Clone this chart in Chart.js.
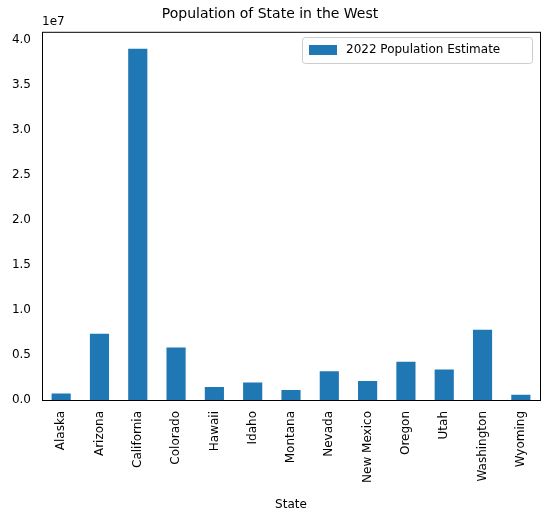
<!DOCTYPE html>
<html><head><meta charset="utf-8">
<script src="https://cdn.jsdelivr.net/npm/chart.js@4"></script>
<style>body{margin:0;background:#fff}#wrap{width:547px;height:522px}</style>
</head><body><div id="wrap"><canvas id="c"></canvas></div>
<script>
const states = ['Alaska','Arizona','California','Colorado','Hawaii','Idaho','Montana','Nevada','New Mexico','Oregon','Utah','Washington','Wyoming'];
const population = [733000, 7360000, 39030000, 5840000, 1440000, 1940000, 1120000, 3180000, 2110000, 4240000, 3380000, 7790000, 580000];
const yTicks = [0, 5e6, 1e7, 1.5e7, 2e7, 2.5e7, 3e7, 3.5e7, 4e7];
const FONT = 'DejaVu Sans';

const extras = {
  id: 'extras',
  afterDraw(chart) {
    const { ctx, chartArea: a } = chart;
    ctx.save();
    ctx.strokeStyle = '#000'; ctx.lineWidth = 1;
    ctx.strokeRect(a.left + 0.5, a.top + 0.5, a.right - a.left, a.bottom - a.top);
    ctx.fillStyle = '#000'; ctx.font = '12px ' + FONT;
    ctx.textBaseline = 'bottom'; ctx.textAlign = 'left';
    ctx.fillText('1e7', a.left, a.top - 4);
    // legend
    const x = 302, y = 37, w = 230, h = 26;
    ctx.fillStyle = 'rgba(255,255,255,0.8)'; ctx.strokeStyle = '#ccc';
    ctx.beginPath(); ctx.roundRect(x + 0.5, y + 0.5, w, h, 3); ctx.fill(); ctx.stroke();
    ctx.fillStyle = '#1f77b4'; ctx.fillRect(x + 7, y + 8, 28, 10);
    ctx.fillStyle = '#000'; ctx.textBaseline = 'middle';
    ctx.fillText('2022 Population Estimate', x + 44, y + 13);
    ctx.restore();
  }
};

new Chart(document.getElementById('c'), {
  type: 'bar',
  data: { labels: states, datasets: [{ label: '2022 Population Estimate', data: population, backgroundColor: '#1f77b4', barPercentage: 0.5, categoryPercentage: 1 }] },
  options: {
    responsive: true, maintainAspectRatio: false, animation: false,
    layout: { padding: { left: 0, right: 7, top: 0, bottom: 0 } },
    plugins: {
      legend: { display: false }, tooltip: { enabled: false },
      title: { display: true, text: 'Population of State in the West', color: '#000', font: { family: FONT, size: 14, weight: 'normal' }, padding: { top: 6, bottom: 9 } }
    },
    scales: {
      x: {
        grid: { display: false, drawTicks: true },
        border: { display: false },
        ticks: { color: '#000', font: { family: FONT, size: 12 }, minRotation: 90, maxRotation: 90 },
        title: { display: true, text: 'State', color: '#000', font: { family: FONT, size: 12 }, padding: { top: 4, bottom: 10 } },
        afterFit(s) { s.height = 122; }
      },
      y: {
        min: 0, max: 40900000,
        grid: { display: false },
        border: { display: false },
        afterBuildTicks(s) { s.ticks = yTicks.map(v => ({ value: v })); },
        ticks: { color: '#000', font: { family: FONT, size: 12 }, callback: v => (v / 1e7).toFixed(1) },
        afterFit(s) { s.width = 42; }
      }
    }
  },
  plugins: [extras]
});
</script></body></html>
